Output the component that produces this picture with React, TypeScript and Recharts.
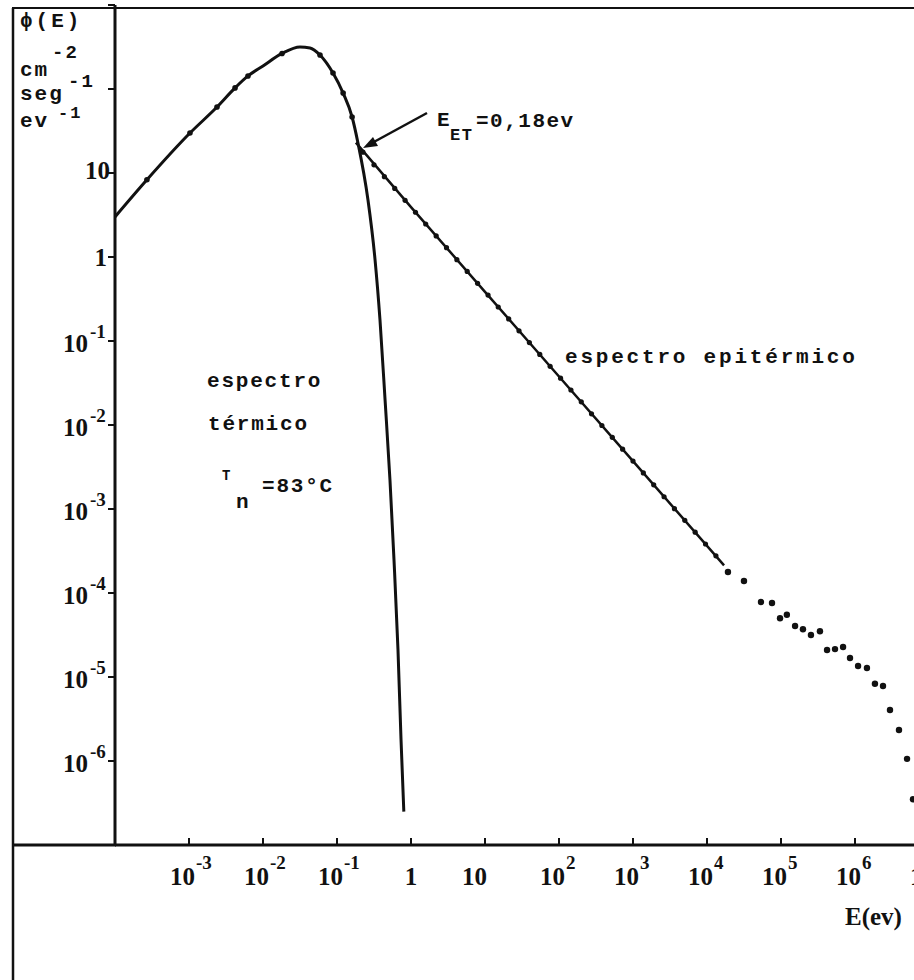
import React from 'react';
import { ComposedChart, Line, Scatter, XAxis, YAxis } from 'recharts';

// Neutron flux spectrum, log-log: E (eV) vs phi(E) (cm^-2 s^-1 eV^-1)
const X_TICKS = [1e-4, 1e-3, 1e-2, 1e-1, 1, 10, 1e2, 1e3, 1e4, 1e5, 1e6, 1e7];
const Y_TICKS = [1e-7, 1e-6, 1e-5, 1e-4, 1e-3, 1e-2, 1e-1, 1, 10, 1e2, 1e3];

// exponent printed at each tick (null = no label)
const X_TICK_EXP: (number | null)[] = [null, -3, -2, -1, 0, 1, 2, 3, 4, 5, 6, 7];
const Y_TICK_EXP: (number | null)[] = [null, -6, -5, -4, -3, -2, -1, 0, 1, null, null];

// thermal (Maxwellian) curve
const thermalCurve: [number, number][] = [
  [1.0e-4, 3.0],
  [2.7e-4, 8.3],
  [1.03e-3, 29.9],
  [2.39e-3, 61],
  [4.19e-3, 103],
  [6.27e-3, 143],
  [1.0e-2, 188],
  [1.81e-2, 265],
  [3.16e-2, 316],
  [4.32e-2, 308],
  [5.89e-2, 254],
  [8.83e-2, 155],
  [0.121, 89.5],
  [0.16, 46.4],
  [0.192, 22.8],
  [0.262, 4.8],
  [0.327, 0.92],
  [0.381, 0.178],
  [0.446, 0.02],
  [0.52, 2.2e-3],
  [0.589, 2.5e-4],
  [0.667, 2.1e-5],
  [0.733, 1.8e-6],
  [0.8, 2.5e-7],
];

const thermalDots: [number, number][] = [
  [2.7e-4, 8.3],
  [1.03e-3, 29.9],
  [2.39e-3, 61],
  [4.19e-3, 103],
  [6.27e-3, 143],
  [1.81e-2, 265],
  [5.89e-2, 254],
  [8.83e-2, 155],
  [0.121, 89.5],
  [0.16, 46.4],
];

// epithermal 1/E slope
const epithermalLine: [number, number][] = [
  [0.18, 23],
  [1, 3.93],
  [10, 0.385],
  [100, 0.0378],
  [1000, 3.72e-3],
  [1.7e4, 2.13e-4],
];

const epithermalDots: [number, number][] = [
  [0.224, 17.7], [0.316, 12.5], [0.437, 9.05], [0.603, 6.55], [0.832, 4.73],
  [1.15, 3.41], [1.58, 2.47], [2.19, 1.78], [3.02, 1.29], [4.17, 0.93],
  [5.75, 0.673], [7.94, 0.486], [11.0, 0.352], [15.1, 0.254], [20.9, 0.183],
  [28.8, 0.132], [39.8, 0.0957], [55.0, 0.0692], [75.9, 0.05], [105, 0.0361],
  [145, 0.0261], [200, 0.0189], [275, 0.0136], [380, 9.86e-3], [525, 7.13e-3],
  [724, 5.15e-3], [1000, 3.72e-3], [1380, 2.69e-3], [1905, 1.94e-3], [2630, 1.4e-3],
  [3630, 1.01e-3], [5010, 7.33e-4], [6920, 5.3e-4], [9550, 3.83e-4], [13200, 2.77e-4],
];

// scattered high-energy points
const fastDots: [number, number][] = [
  [1.92e4, 1.78e-4], [3.16e4, 1.39e-4], [5.37e4, 7.8e-5], [7.56e4, 7.6e-5],
  [9.7e4, 5.0e-5], [1.2e5, 5.5e-5], [1.55e5, 4.05e-5], [1.98e5, 3.7e-5],
  [2.54e5, 3.16e-5], [3.36e5, 3.5e-5], [4.19e5, 2.1e-5], [5.37e5, 2.15e-5],
  [6.9e5, 2.28e-5], [8.56e5, 1.68e-5], [1.1e6, 1.35e-5], [1.45e6, 1.28e-5],
  [1.86e6, 8.3e-6], [2.39e6, 7.8e-6], [2.97e6, 4.05e-6], [3.93e6, 2.34e-6],
  [5.05e6, 1.06e-6], [6.08e6, 3.5e-7],
];

const toRows = (pts: [number, number][]) => pts.map(([x, y]) => ({ x, y }));

const INK = '#111';
const SERIF = '"Liberation Serif", "DejaVu Serif", serif';
const MONO = '"Liberation Mono", "DejaVu Sans Mono", monospace';

// plot area: x 115..929, y 5..845
const Y_AXIS_W = 60;
const X_AXIS_H = 40;
const MARGIN = { top: 5, right: 31, bottom: 135 - X_AXIS_H, left: 115 - Y_AXIS_W };
const AXIS_X = 115;
const AXIS_Y = 845;

function XTick(props: any) {
  const { x, payload } = props;
  const exp = X_TICK_EXP[X_TICKS.indexOf(payload.value)];
  if (exp == null) return null;
  const base = AXIS_Y + 40;
  let label;
  if (exp === 0) {
    label = <text x={x} y={base} textAnchor="middle">1</text>;
  } else if (exp === 1) {
    label = <text x={x + 2} y={base} textAnchor="end">10</text>;
  } else {
    label = (
      <>
        <text x={x + 6} y={base} textAnchor="end">10</text>
        <text x={x + 7} y={base - 16} fontSize={19}>{exp}</text>
      </>
    );
  }
  return (
    <g fontFamily={SERIF} fontSize={25} fontWeight="bold" fill={INK}>
      <line x1={x} x2={x} y1={AXIS_Y} y2={AXIS_Y - 7} stroke={INK} strokeWidth={2} />
      {label}
    </g>
  );
}

function YTick(props: any) {
  const { y, payload } = props;
  const idx = Y_TICKS.indexOf(payload.value);
  if (idx <= 0) return null;
  const exp = Y_TICK_EXP[idx];
  let label = null;
  if (exp === 0) {
    label = <text x={AXIS_X - 8} y={y + 9} textAnchor="end">1</text>;
  } else if (exp === 1) {
    label = <text x={AXIS_X - 5} y={y + 6} textAnchor="end">10</text>;
  } else if (exp != null) {
    label = (
      <>
        <text x={AXIS_X - 27} y={y + 11} textAnchor="end">10</text>
        <text x={AXIS_X - 25} y={y - 3} fontSize={19}>{exp}</text>
      </>
    );
  }
  return (
    <g fontFamily={SERIF} fontSize={25} fontWeight="bold" fill={INK}>
      <line x1={AXIS_X - 7} x2={AXIS_X} y1={y} y2={y} stroke={INK} strokeWidth={2} />
      {label}
    </g>
  );
}

const dot = (r: number) => (p: any) => <circle cx={p.cx} cy={p.cy} r={r} fill={INK} />;

export default function App() {
  const monoText = { fontFamily: MONO, fontSize: 21, fontWeight: 'bold' as const, fill: INK };
  return (
    <div
      style={{
        position: 'absolute',
        left: 0,
        top: 0,
        width: 914,
        height: 980,
        overflow: 'hidden',
        background: '#fff',
      }}
    >
      <ComposedChart width={960} height={980} margin={MARGIN}>
        <XAxis
          dataKey="x"
          type="number"
          scale="log"
          domain={[1e-4, 1e7]}
          allowDataOverflow
          ticks={X_TICKS}
          interval={0}
          height={X_AXIS_H}
          tickLine={false}
          axisLine={{ stroke: INK, strokeWidth: 3 }}
          tick={(p: any) => <XTick {...p} />}
        />
        <YAxis
          dataKey="y"
          type="number"
          scale="log"
          domain={[1e-7, 1e3]}
          allowDataOverflow
          ticks={Y_TICKS}
          interval={0}
          width={Y_AXIS_W}
          tickLine={false}
          axisLine={{ stroke: INK, strokeWidth: 3 }}
          tick={(p: any) => <YTick {...p} />}
        />
        <Line
          data={toRows(thermalCurve)}
          dataKey="y"
          type="monotone"
          stroke={INK}
          strokeWidth={3}
          dot={false}
          isAnimationActive={false}
        />
        <Line
          data={toRows(epithermalLine)}
          dataKey="y"
          type="linear"
          stroke={INK}
          strokeWidth={2.5}
          dot={false}
          isAnimationActive={false}
        />
        <Scatter data={toRows(thermalDots)} dataKey="y" shape={dot(2.8)} isAnimationActive={false} />
        <Scatter data={toRows(epithermalDots)} dataKey="y" shape={dot(2.6)} isAnimationActive={false} />
        <Scatter data={toRows(fastDots)} dataKey="y" shape={dot(3.2)} isAnimationActive={false} />
      </ComposedChart>

      <svg
        width={914}
        height={980}
        style={{ position: 'absolute', left: 0, top: 0, pointerEvents: 'none' }}
      >
        {/* page frame and axis extension */}
        <line x1={12} y1={8} x2={914} y2={8} stroke={INK} strokeWidth={2} />
        <line x1={13} y1={8} x2={13} y2={980} stroke={INK} strokeWidth={2.5} />
        <line x1={12} y1={AXIS_Y} x2={AXIS_X + 1} y2={AXIS_Y} stroke={INK} strokeWidth={3} />

        {/* units box */}
        <g {...monoText} letterSpacing={2}>
          <text x={20} y={27} letterSpacing={3}>ϕ(E)</text>
          <text x={20} y={76}>cm</text>
          <text x={52} y={58} fontSize={19}>-2</text>
          <text x={20} y={100}>seg</text>
          <text x={68} y={87} fontSize={19}>-1</text>
          <text x={20} y={127}>ev</text>
          <text x={58} y={118} fontSize={17}>-1</text>
        </g>

        {/* E_ET annotation */}
        <line x1={427} y1={113} x2={372} y2={143} stroke={INK} strokeWidth={2.5} />
        <polygon points="363,148 378,146 373,137" fill={INK} />
        <g {...monoText} letterSpacing={1.5}>
          <text x={437} y={126}>E</text>
          <text x={450} y={140} fontSize={17}>ET</text>
          <text x={476} y={127}>=0,18ev</text>
        </g>

        {/* region labels */}
        <g {...monoText} letterSpacing={1.8}>
          <text x={207} y={387}>espectro</text>
          <text x={208} y={430}>térmico</text>
          <text x={222} y={480} fontSize={14}>T</text>
          <text x={236} y={508}>n</text>
          <text x={262} y={492}>=83°C</text>
          <text x={565} y={363} letterSpacing={2.8}>espectro epitérmico</text>
        </g>

        <text x={845} y={925} fontFamily={SERIF} fontSize={25} fontWeight="bold" fill={INK}>
          E(ev)
        </text>
      </svg>
    </div>
  );
}
